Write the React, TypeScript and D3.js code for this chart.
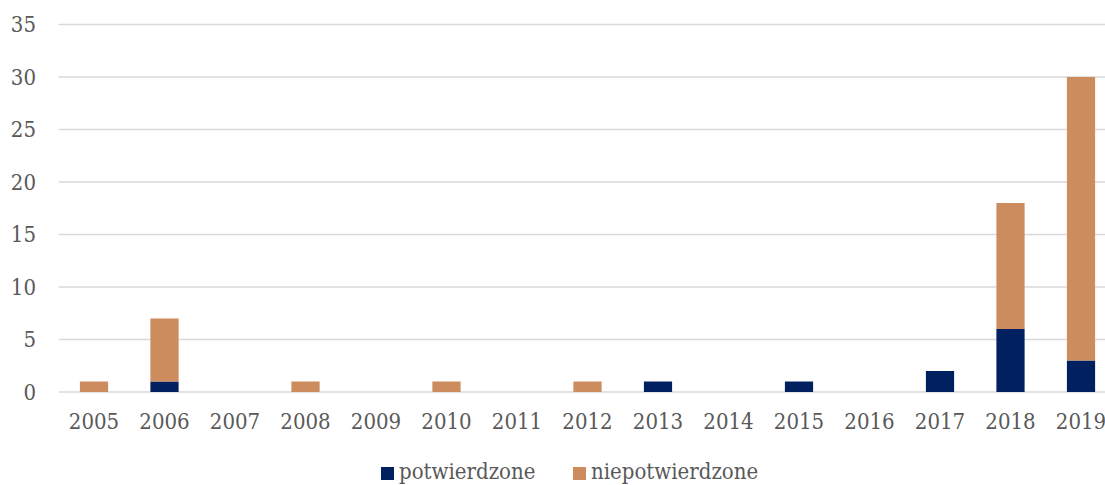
import React, { useEffect, useRef } from "react";
import * as d3 from "d3";

const years = ["2005", "2006", "2007", "2008", "2009", "2010", "2011", "2012", "2013", "2014", "2015", "2016", "2017", "2018", "2019"];
const potwierdzone = [0, 1, 0, 0, 0, 0, 0, 0, 1, 0, 1, 0, 2, 6, 3];
const niepotwierdzone = [1, 6, 0, 1, 0, 1, 0, 1, 0, 0, 0, 0, 0, 12, 27];
const seriesNames = ["potwierdzone", "niepotwierdzone"];
const yTicks = [0, 5, 10, 15, 20, 25, 30, 35];

const App = () => {
  const ref = useRef<SVGSVGElement>(null);

  useEffect(() => {
    const width = 1105;
    const height = 485;
    const left = 58.75;
    const right = 1116.25;
    const top = 24.5;
    const bottom = 392;
    const font = "'DejaVu Serif Condensed', 'DejaVu Serif', serif";
    const textColor = "#595959";
    const colors = ["#002060", "#CC8C5E"];

    const svg = d3.select(ref.current)
      .attr("width", width)
      .attr("height", height)
      .style("display", "block")
      .style("position", "absolute")
      .style("left", "0px")
      .style("top", "0px");
    svg.selectAll("*").remove();

    const x = d3.scaleBand().domain(years).range([left, right]).paddingInner(0.6).paddingOuter(0.3);
    const y = d3.scaleLinear().domain([0, 35]).range([bottom, top]);

    // siatka
    svg.append("g")
      .selectAll("line")
      .data(yTicks)
      .join("line")
      .attr("x1", left)
      .attr("x2", width)
      .attr("y1", (d) => y(d))
      .attr("y2", (d) => y(d))
      .attr("stroke", "#d9d9d9")
      .attr("stroke-width", 1.5);

    svg.append("g")
      .selectAll("text")
      .data(yTicks)
      .join("text")
      .attr("x", 36)
      .attr("y", (d) => y(d))
      .attr("text-anchor", "end")
      .attr("dominant-baseline", "central")
      .attr("font-family", font)
      .attr("font-size", 22)
      .attr("fill", textColor)
      .text((d) => d);

    // słupki
    const rows = years.map((yr, i) => ({ year: yr, potwierdzone: potwierdzone[i], niepotwierdzone: niepotwierdzone[i] }));
    const stack = d3.stack<any>().keys(seriesNames)(rows);

    stack.forEach((layer, si) => {
      svg.append("g")
        .selectAll("rect")
        .data(layer)
        .join("rect")
        .attr("x", (d) => x(d.data.year)!)
        .attr("width", x.bandwidth())
        .attr("y", (d) => y(d[1]))
        .attr("height", (d) => y(d[0]) - y(d[1]))
        .attr("fill", colors[si]);
    });

    svg.append("g")
      .selectAll("text")
      .data(years)
      .join("text")
      .attr("x", (d) => x(d)! + x.bandwidth() / 2)
      .attr("y", 429)
      .attr("text-anchor", "middle")
      .attr("font-family", font)
      .attr("font-size", 22)
      .attr("fill", textColor)
      .text((d) => d);

    // legenda
    const legendX = [381, 573];
    seriesNames.forEach((name, i) => {
      svg.append("rect")
        .attr("x", legendX[i])
        .attr("y", 467)
        .attr("width", 13)
        .attr("height", 13)
        .attr("fill", colors[i]);
      svg.append("text")
        .attr("x", legendX[i] + 18)
        .attr("y", 479)
        .attr("font-family", font)
        .attr("font-size", 22)
        .attr("fill", textColor)
        .text(name);
    });
  }, []);

  return <svg ref={ref}></svg>;
};

export default App;
